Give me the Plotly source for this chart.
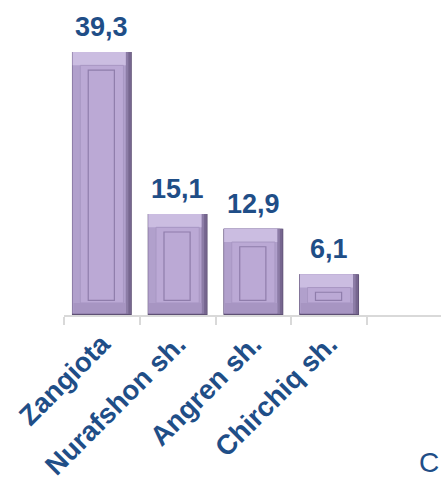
import plotly.graph_objects as go

categories = ["Zangiota", "Nurafshon sh.", "Angren sh.", "Chirchiq sh.", ""]
values = [39.3, 15.1, 12.9, 6.1]
value_labels = ["39,3", "15,1", "12,9", "6,1"]

BLUE = "#1F4E87"
FONT = "Liberation Sans, Arial, sans-serif"

cats = categories[:len(values)]
n = len(values)
top_bev = 2.0     # top bevel thickness (data units)
bot_bev = 1.8     # bottom bevel thickness (data units)


def layer(y, base, width, offset, color, line=None):
    fig.add_trace(go.Bar(x=cats, y=y, base=base, width=width, offset=offset,
                         marker=dict(color=color, line=line or dict(width=0)),
                         hoverinfo="skip", showlegend=False))


fig = go.Figure()
# outer dark edge
layer(values, [0] * n, 0.79, -0.395, "#5E5074")
# right bevel (dark gradient steps)
layer([v - 0.15 for v in values], [0.15] * n, 0.775, -0.39, "#76668F")
layer([v - 0.2 for v in values], [0.2] * n, 0.74, -0.39, "#8C7CA6")
# body / left bevel
layer([v - 0.25 for v in values], [0.25] * n, 0.70, -0.385, "#B1A0CC")
# bottom bevel
layer([bot_bev - 0.25] * n, [0.25] * n, 0.69, -0.375, "#A795C2")
# top bevel highlight
layer([top_bev] * n, [v - top_bev for v in values], 0.70, -0.385, "#CBBDE1")
# face
layer([v - top_bev - bot_bev for v in values], [bot_bev] * n, 0.57, -0.285, "#BBA9D5",
      line=dict(color="#A897C3", width=1))
# inner inset rectangle
layer([v - 2.7 - 2.2 for v in values], [2.2] * n, 0.345, -0.18, "rgba(187,169,213,0)",
      line=dict(color="#8F7DAB", width=1.2))

for c, v, t in zip(cats, values, value_labels):
    fig.add_annotation(x=c, y=v, text=t, showarrow=False, yanchor="bottom", yshift=8,
                       font=dict(family=FONT, size=27, color=BLUE, weight="bold"))

fig.add_annotation(xref="paper", yref="paper", x=1.0, y=-0.50, text="C", showarrow=False,
                   xanchor="right", yanchor="middle",
                   font=dict(family=FONT, size=28, color=BLUE))

fig.update_layout(
    width=441, height=483,
    margin=dict(l=64, r=0, t=20, b=168, autoexpand=False),
    paper_bgcolor="white", plot_bgcolor="white",
    barmode="overlay", bargap=0.22,
    xaxis=dict(type="category", categoryorder="array", categoryarray=categories,
               range=[-0.5, 4.477], showline=True, linecolor="#D9D9D9", linewidth=2,
               ticks="outside", ticklen=8, tickcolor="#D9D9D9", tickwidth=2,
               tickson="boundaries", tickangle=-45, showgrid=False, automargin=False,
               tickfont=dict(family=FONT, size=27.5, color=BLUE, weight="bold")),
    yaxis=dict(range=[0, 44.08], visible=False, showgrid=False, zeroline=False),
)
fig.write_html("out.html", config={"displayModeBar": False},
               post_script="document.body.style.margin='0';document.body.style.overflow='hidden';")
